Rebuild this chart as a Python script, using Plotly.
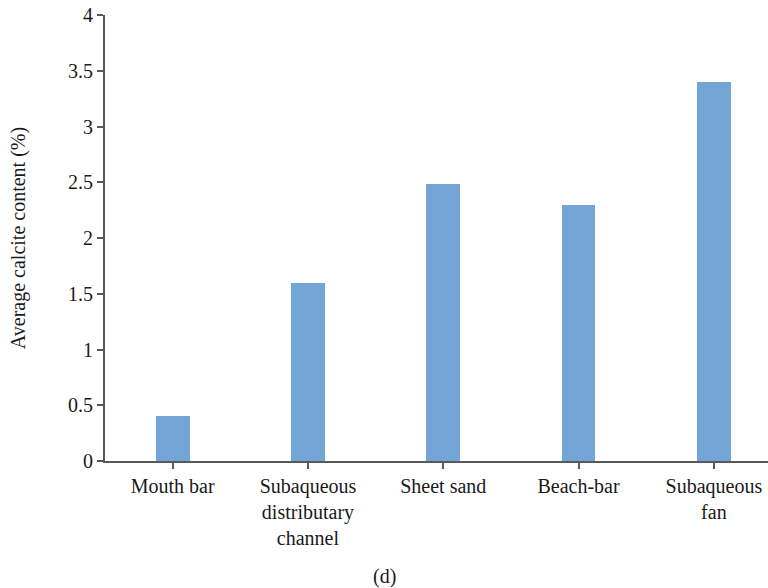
import plotly.graph_objects as go

# Average calcite content per sedimentary microfacies
categories = [
    "Mouth bar",
    "Subaqueous<br>distributary<br>channel",
    "Sheet sand",
    "Beach-bar",
    "Subaqueous<br>fan",
]
calcite = [0.4, 1.6, 2.48, 2.3, 3.4]

y_ticks = [0, 0.5, 1, 1.5, 2, 2.5, 3, 3.5, 4]
y_tick_text = ["0", "0.5", "1", "1.5", "2", "2.5", "3", "3.5", "4"]

font_family = "Liberation Serif, DejaVu Serif, serif"
axis_color = "#595959"
text_size = 20

fig = go.Figure(
    go.Bar(
        x=list(range(len(categories))),
        y=calcite,
        width=0.25,
        marker=dict(color="#73A5D6", line=dict(width=0)),
    )
)

fig.update_layout(
    width=768,
    height=588,
    margin=dict(l=105, r=0, t=15, b=127),
    plot_bgcolor="white",
    paper_bgcolor="white",
    font=dict(family=font_family, size=text_size, color="#1a1a1a"),
    showlegend=False,
    bargap=0,
)

fig.update_xaxes(
    range=[-0.5, 4.4],
    tickmode="array",
    tickvals=list(range(len(categories))),
    ticktext=categories,
    showline=True,
    linecolor=axis_color,
    linewidth=2,
    ticks="outside",
    ticklen=6,
    tickwidth=1.5,
    tickcolor=axis_color,
    showgrid=False,
    zeroline=False,
    tickfont=dict(size=text_size),
)

fig.update_yaxes(
    range=[0, 4],
    tickmode="array",
    tickvals=y_ticks,
    ticktext=y_tick_text,
    showline=True,
    linecolor=axis_color,
    linewidth=2,
    ticks="outside",
    ticklen=6,
    tickwidth=1.5,
    tickcolor=axis_color,
    showgrid=False,
    zeroline=False,
    tickfont=dict(size=text_size),
    title=dict(text="Average calcite content (%)", font=dict(size=text_size), standoff=37),
)

fig.add_annotation(
    text="(d)",
    xref="paper",
    yref="paper",
    x=(384 - 105) / 663,
    y=-(577 - 461) / 446,
    showarrow=False,
    yanchor="middle",
    xanchor="center",
    font=dict(size=text_size),
)

fig.write_html("out.html")
